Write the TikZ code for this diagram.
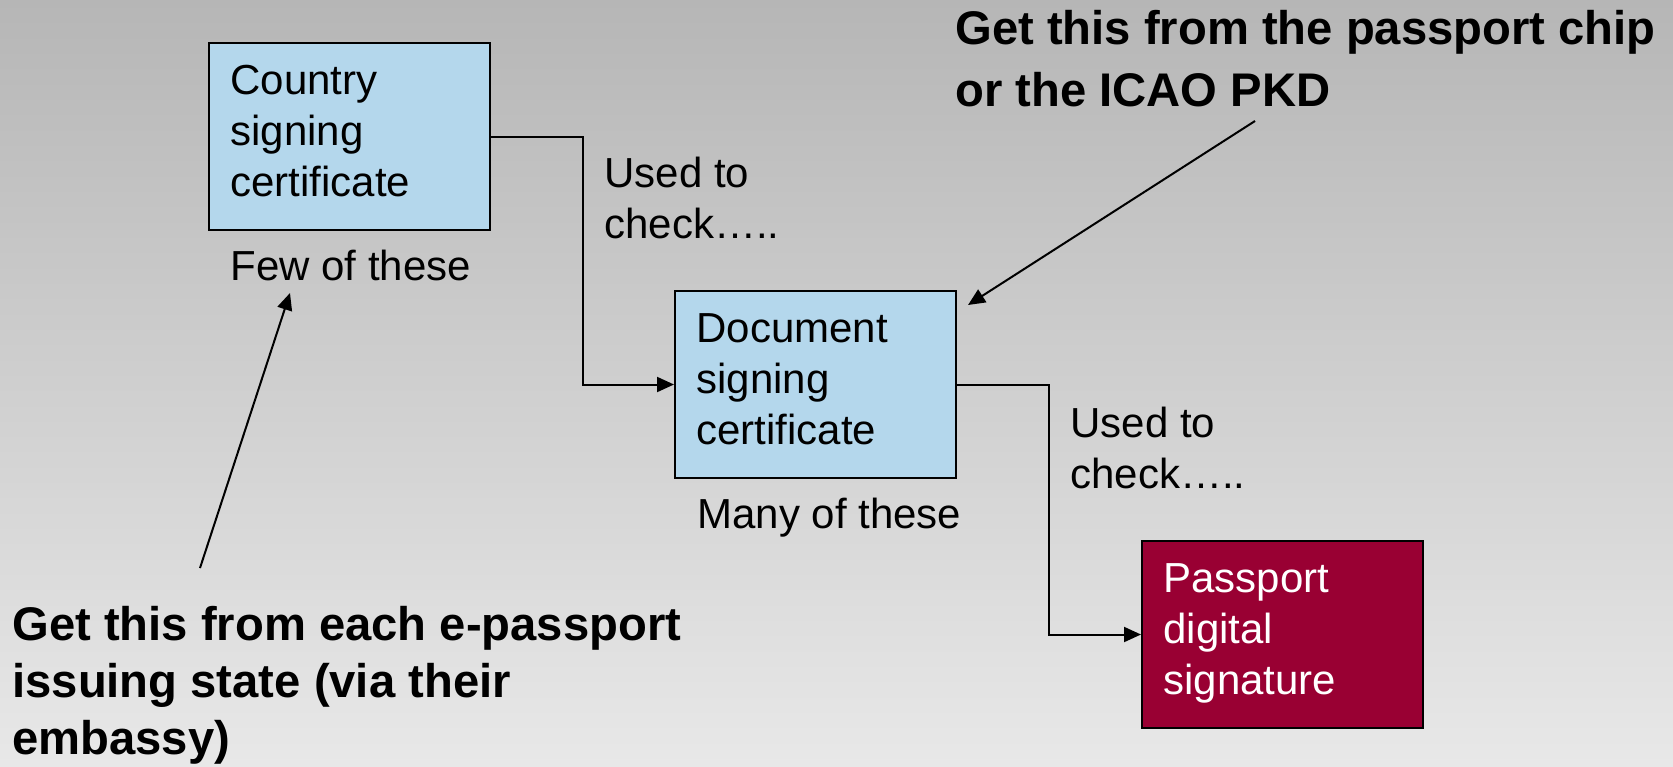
\documentclass[tikz,border=0pt]{standalone}
\usepackage{fontspec}
\setmainfont{Liberation Sans}
\usetikzlibrary{arrows.meta}
\definecolor{boxblue}{RGB}{180,215,236}
\definecolor{wine}{RGB}{153,0,51}
\definecolor{bgtop}{RGB}{182,182,182}
\definecolor{bgbot}{RGB}{232,232,232}
\tikzset{
  certbox/.style={draw=black, line width=1pt, fill=boxblue, inner sep=0pt,
    minimum width=140.5pt, minimum height=93.5pt},
  sigbox/.style={certbox, fill=wine},
  plain/.style={anchor=base west, inner sep=0pt, font=\fontsize{21}{25.5}\selectfont},
  boldnote/.style={anchor=base west, inner sep=0pt, font=\fontsize{23.6}{31}\selectfont\bfseries},
  conn/.style={draw=black, line width=1pt, -{Triangle[length=8.5pt,width=7.5pt]}},
}
\begin{document}
\begin{tikzpicture}[x=0.5pt,y=-0.5pt]
\path[use as bounding box, top color=bgtop, bottom color=bgbot] (0,0) rectangle (1673,766);

% boxes
\node[certbox] (cs) at (349,136.5) {};
\node[certbox] (doc) at (815.5,384.5) {};
\node[sigbox] (pp) at (1282.5,634.5) {};

% box texts
\node[plain] (cst) at (230,94) {\begin{tabular}[t]{@{}l@{}}Country\\signing\\certificate\end{tabular}};
\node[plain] (doct) at (696,342) {\begin{tabular}[t]{@{}l@{}}Document\\signing\\certificate\end{tabular}};
\node[plain, text=white] (ppt) at (1163,592) {\begin{tabular}[t]{@{}l@{}}Passport\\digital\\signature\end{tabular}};

% labels
\node[plain] (few) at (230,280) {Few of these};
\node[plain] (many) at (697,528) {Many of these};
\node[plain] (used1) at (604,187) {\begin{tabular}[t]{@{}l@{}}Used to\\check…..\end{tabular}};
\node[plain] (used2) at (1070,437) {\begin{tabular}[t]{@{}l@{}}Used to\\check…..\end{tabular}};

% notes
\node[boldnote] (note1) at (955,44) {\begin{tabular}[t]{@{}l@{}}Get this from the passport chip\\or the ICAO PKD\end{tabular}};
\node[boldnote, font=\fontsize{23.6}{28.5}\selectfont\bfseries] (note2) at (12,640) {\begin{tabular}[t]{@{}l@{}}Get this from each e-passport\\issuing state (via their\\embassy)\end{tabular}};

% connectors
\coordinate (j1) at (583,260);
\coordinate (j2) at (1049,500);
\draw[conn] (cs.east) -| (j1) |- (doc.west);
\draw[conn] (doc.east) -| (j2) |- (pp.west);

\coordinate (t1) at (200,568);
\coordinate (h1) at (290,293);
\draw[conn] (t1) -- (h1);
\coordinate (t2) at (1255,121);
\coordinate (h2) at (968,305);
\draw[conn] (t2) -- (h2);
\end{tikzpicture}
\end{document}
